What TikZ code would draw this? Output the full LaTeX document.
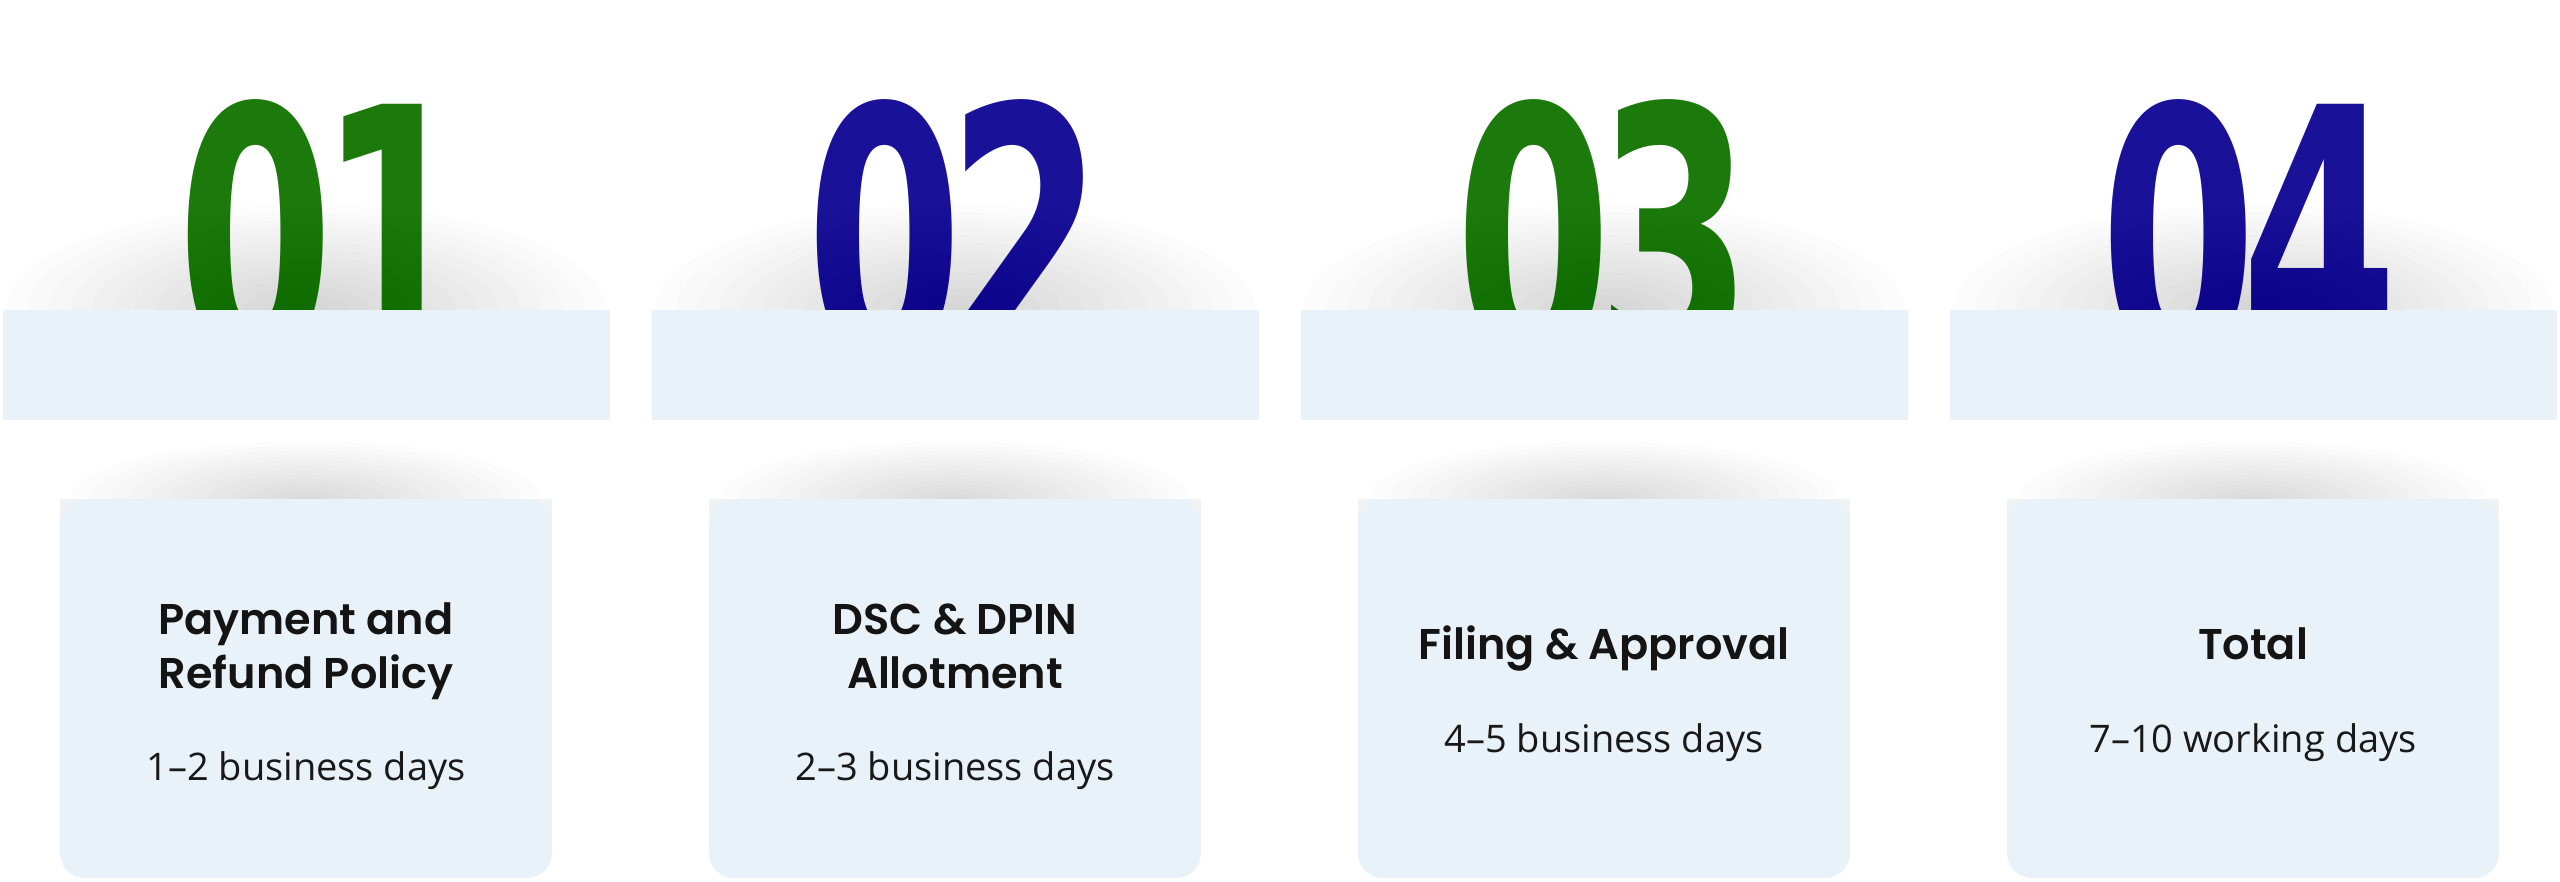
\documentclass[tikz,border=0pt]{standalone}
\usepackage{fontspec}
\newfontfamily\headfont{Poppins SemiBold}
\newfontfamily\subfont{Open Sans}
\newfontfamily\numfont{DejaVu Sans}
\definecolor{bandfill}{RGB}{234,242,249}
\definecolor{cardfill}{RGB}{234,242,249}
\definecolor{cardcorner}{RGB}{241,242,244}
\definecolor{numgreen}{RGB}{28,122,12}
\definecolor{numblue}{RGB}{26,17,153}
\tikzset{
  bandbox/.style={fill=bandfill, draw=none, inner sep=0pt, minimum width=607pt, minimum height=110pt},
  cardbox/.style={fill=cardfill, draw=none, inner sep=0pt, rounded corners=25pt, minimum width=492pt, minimum height=379pt},
  numtxt/.style={font=\numfont\bfseries\fontsize{357}{357}\selectfont, inner sep=0pt, anchor=base},
  headtxt/.style={font=\headfont\fontsize{43}{54}\selectfont, align=center, text=black!92, inner sep=0pt, anchor=base},
  subtxt/.style={font=\subfont\fontsize{38}{44}\selectfont, text=black!90, inner sep=0pt, anchor=base},
  glowunder/.style={fill=black, opacity=0.006, draw=none},
  glowover/.style={fill=black, opacity=0.0045, draw=none},
  glowstep/.style={fill=black, opacity=0.010, draw=none}
}
\begin{document}
\begin{tikzpicture}[x=1pt,y=-1pt]
\useasboundingbox (0,0) rectangle (2560,882);
\fill[white] (0,0) rectangle (2560,882);
\foreach \i/\da/\db/\col/\dx/\hy/\head/\sy/\sub in {
  0/0/1/numgreen/20/688/{Payment and\\Refund Policy}/780/{1–2 business days},
  1/0/2/numblue/0/688/{DSC \& DPIN\\Allotment}/780/{2–3 business days},
  2/0/3/numgreen/0/659/{Filing \& Approval}/752/{4–5 business days},
  3/0/4/numblue/-4/659/{Total}/752/{7–10 working days}}
{
  \pgfmathsetmacro\cx{306+649*\i}
  \foreach \k in {1,...,14}
    \fill[glowunder] (\cx,310) ellipse [x radius={300*\k/14}, y radius={105*\k/14}];
  \node[numtxt, text=\col] (num\i) at (\cx+\dx,365) {\scalebox{0.63}[1]{\da\kern-0.07em\db}};
  \foreach \k in {1,...,14}
    \fill[glowover] (\cx,310) ellipse [x radius={300*\k/14}, y radius={105*\k/14}];
  \node[bandbox] (band\i) at (\cx,365) {};
  \foreach \k in {1,...,12}
    \fill[glowstep] (\cx,499) ellipse [x radius={235*\k/12}, y radius={58*\k/12}];
  \fill[cardcorner] (\cx-246,499) rectangle (\cx+246,555);
  \node[cardbox] (card\i) at (\cx,688.5) {};
  \node[headtxt] (head\i) at (\cx,\hy) {\head};
  \node[subtxt] (sub\i) at (\cx,\sy) {\sub};
}
\end{tikzpicture}
\end{document}
